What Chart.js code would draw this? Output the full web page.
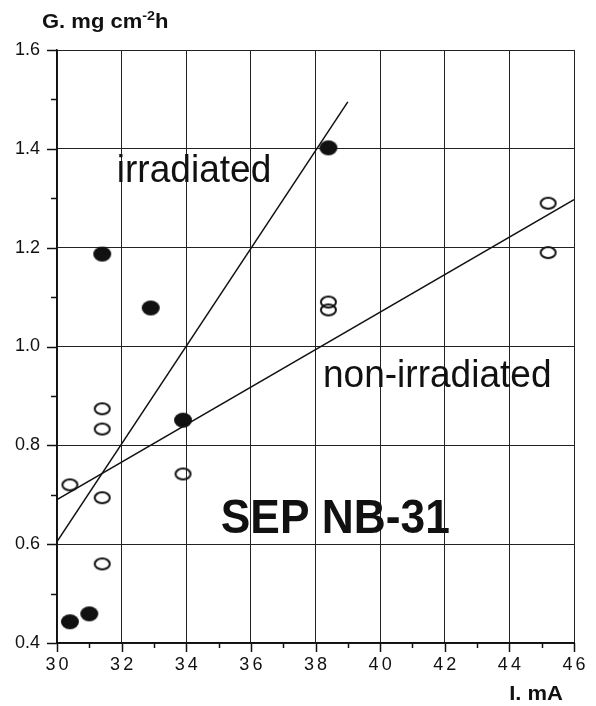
<!DOCTYPE html>
<html lang="en">
<head>
<meta charset="UTF-8">
<title>SEP NB-31</title>
<script src="https://cdn.jsdelivr.net/npm/chart.js"></script>
<style>
  body { margin: 0; background: #fff; }
  #wrap { width: 596px; height: 706px; }
</style>
</head>
<body>
<div id="wrap"><canvas id="chart" width="596" height="706"></canvas></div>
<script>
// irradiated samples (filled marks)
const irrI = [30.4, 31.0, 31.4, 32.9, 33.9, 38.4];
const irrG = [0.443, 0.459, 1.187, 1.078, 0.851, 1.402];

// non-irradiated samples (open marks)
const nonI = [30.4, 31.4, 31.4, 31.4, 31.4, 33.9, 38.4, 38.4, 45.2, 45.2];
const nonG = [0.72, 0.874, 0.833, 0.694, 0.56, 0.742, 1.09, 1.074, 1.29, 1.19];

// fitted straight lines, end points
const irrFitI = [30, 39];
const irrFitG = [0.605, 1.495];
const nonFitI = [30, 46];
const nonFitG = [0.69, 1.297];

// axis ranges and titles
const xRange = [30, 46];
const yRange = [0.4, 1.6];
const yTitle = ['G. mg cm', '-2', 'h'];
const xTitle = 'I. mA';
const noteText = ['irradiated', 'non-irradiated', 'SEP NB-31'];

const FONT = "'Liberation Sans', Arial, sans-serif";
const INK = '#111';

const toPts = (xs, ys) => xs.map((v, i) => ({ x: v, y: ys[i] }));

// oval marks, wider than tall like in the figure
function oval(w, h, filled) {
  const c = document.createElement('canvas');
  c.width = w + 4; c.height = h + 4;
  const g = c.getContext('2d');
  g.beginPath();
  g.ellipse(c.width / 2, c.height / 2, w / 2, h / 2, 0, 0, Math.PI * 2);
  if (filled) {
    g.fillStyle = INK; g.fill();
  } else {
    g.lineWidth = 2; g.strokeStyle = INK; g.stroke();
  }
  return c;
}

const isMajorX = v => Math.round(v) % 2 === 0;
const isMajorY = v => Math.round(v * 10) % 2 === 0;

// draws text squeezed / stretched horizontally
function drawText(ctx, txt, x, y, font, sx, align) {
  ctx.save();
  ctx.font = font;
  ctx.textBaseline = 'alphabetic';
  ctx.textAlign = 'left';
  const w = ctx.measureText(txt).width * sx;
  const left = align === 'right' ? x - w : x;
  ctx.translate(left, y);
  ctx.scale(sx, 1);
  ctx.fillText(txt, 0, 0);
  ctx.restore();
  return w;
}

// spread the x tick digits a bit, as in the original
const spacedX = {
  id: 'spacedX',
  beforeDraw(chart) {
    const s = chart.scales.x;
    if (s._spaced) return;
    const draw = s.drawLabels;
    s.drawLabels = function (area) {
      this.ctx.letterSpacing = '3px';
      this.ctx.translate(1.5, 0);
      draw.call(this, area);
      this.ctx.translate(-1.5, 0);
      this.ctx.letterSpacing = '0px';
    };
    s._spaced = true;
  }
};

// outward tick marks, long for majors, short for minors
const tickMarks = {
  id: 'tickMarks',
  afterDraw(chart) {
    const ctx = chart.ctx, x = chart.scales.x, y = chart.scales.y;
    ctx.save();
    ctx.strokeStyle = INK;
    ctx.lineWidth = 1.5;
    x.ticks.forEach(t => {
      const px = Math.round(x.getPixelForValue(t.value)) + 0.5;
      const len = isMajorX(t.value) ? 9 : 5;
      ctx.beginPath(); ctx.moveTo(px, x.top); ctx.lineTo(px, x.top + len); ctx.stroke();
    });
    y.ticks.forEach(t => {
      const py = Math.round(y.getPixelForValue(t.value)) + 0.5;
      const len = isMajorY(t.value) ? 10 : 6;
      ctx.beginPath(); ctx.moveTo(y.right, py); ctx.lineTo(y.right - len, py); ctx.stroke();
    });
    ctx.restore();
  }
};

// labels inside the plot and the axis titles
const notes = {
  id: 'notes',
  afterDatasetsDraw(chart) {
    const ctx = chart.ctx, x = chart.scales.x, y = chart.scales.y;
    ctx.save();
    ctx.fillStyle = INK;
    drawText(ctx, noteText[0], x.getPixelForValue(31.85), y.getPixelForValue(1.333), '38px ' + FONT, 0.975);
    drawText(ctx, noteText[1], x.getPixelForValue(38.23), y.getPixelForValue(0.918), '38px ' + FONT, 0.975);
    drawText(ctx, noteText[2], x.getPixelForValue(35.07), y.getPixelForValue(0.623), 'bold 48px ' + FONT, 0.923);

    // y title with superscript
    let cx = 42;
    cx += drawText(ctx, yTitle[0], cx, 28, 'bold 20px ' + FONT, 1.1);
    cx += drawText(ctx, yTitle[1], cx, 20, 'bold 13px ' + FONT, 1.1);
    drawText(ctx, yTitle[2], cx, 28, 'bold 20px ' + FONT, 1.1);

    drawText(ctx, xTitle, 563, 700, 'bold 20px ' + FONT, 1.1, 'right');
    ctx.restore();
  }
};

new Chart(document.getElementById('chart'), {
  type: 'scatter',
  data: {
    datasets: [
      {
        label: 'irradiated',
        data: toPts(irrI, irrG),
        pointStyle: oval(18, 15, true)
      },
      {
        label: 'non-irradiated',
        data: toPts(nonI, nonG),
        pointStyle: oval(15, 11, false)
      },
      {
        label: 'irradiated fit',
        data: toPts(irrFitI, irrFitG),
        showLine: true,
        pointRadius: 0,
        borderColor: INK,
        borderWidth: 1.5
      },
      {
        label: 'non-irradiated fit',
        data: toPts(nonFitI, nonFitG),
        showLine: true,
        pointRadius: 0,
        borderColor: INK,
        borderWidth: 1.5
      }
    ]
  },
  options: {
    responsive: false,
    animation: false,
    events: [],
    layout: { padding: { top: 50, right: 22, left: 0, bottom: 0 } },
    plugins: {
      legend: { display: false },
      tooltip: { enabled: false }
    },
    scales: {
      x: {
        type: 'linear',
        min: xRange[0],
        max: xRange[1],
        afterFit: s => { s.height = 63; },
        border: { color: INK, width: 1.5 },
        grid: {
          color: c => isMajorX(c.tick.value) ? '#222' : 'rgba(0,0,0,0)',
          lineWidth: 1,
          tickColor: 'rgba(0,0,0,0)',
          tickLength: 9
        },
        ticks: {
          stepSize: 1,
          autoSkip: false,
          maxRotation: 0,
          padding: 2,
          color: '#111',
          font: { family: FONT, size: 18 },
          callback: v => isMajorX(v) ? String(Math.round(v)) : ''
        }
      },
      y: {
        type: 'linear',
        min: yRange[0],
        max: yRange[1],
        afterFit: s => { s.width = 57; },
        border: { color: INK, width: 1.5 },
        grid: {
          color: c => isMajorY(c.tick.value) ? '#222' : 'rgba(0,0,0,0)',
          lineWidth: 1,
          tickColor: 'rgba(0,0,0,0)',
          tickLength: 10
        },
        ticks: {
          stepSize: 0.1,
          autoSkip: false,
          padding: 7,
          color: '#111',
          font: { family: FONT, size: 18 },
          callback: v => isMajorY(v) ? v.toFixed(1) : ''
        }
      }
    }
  },
  plugins: [spacedX, tickMarks, notes]
});
</script>
</body>
</html>
